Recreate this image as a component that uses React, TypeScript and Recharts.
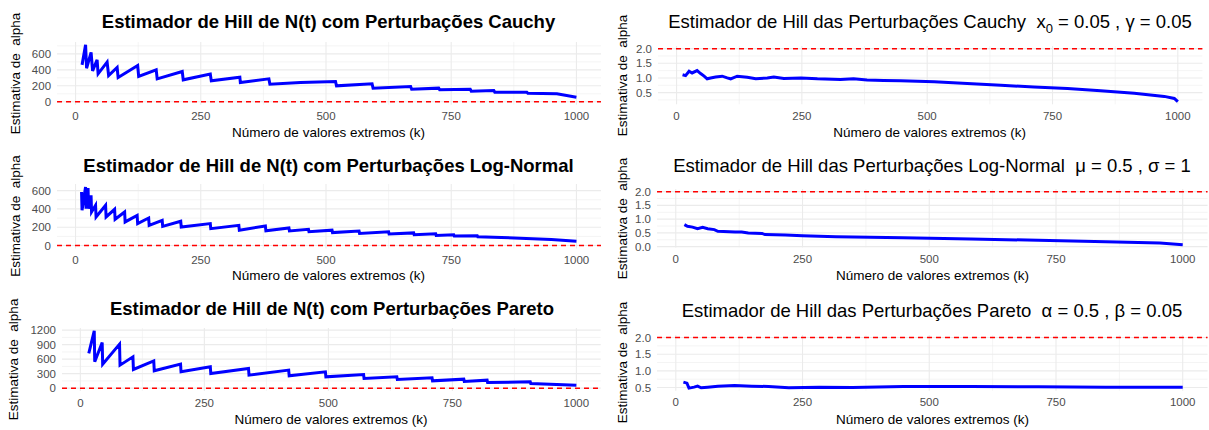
import React from 'react';
import { LineChart, Line, XAxis, YAxis, CartesianGrid, ReferenceLine } from 'recharts';

const FONT = '"Liberation Sans", Arial, Helvetica, sans-serif';

// ---------- data ----------
const kCauchyN = [13, 20, 22, 31, 34, 43, 45, 63, 66, 83, 85, 124, 126, 161, 163, 213, 215, 269, 271, 328, 329, 386, 388, 449, 519, 521, 592, 594, 669, 671, 725, 727, 788, 790, 835, 837, 901, 903, 961, 1000];
const alphaCauchyN = [462, 712, 420, 617, 387, 525, 350, 496, 329, 429, 304, 454, 317, 400, 287, 379, 275, 346, 262, 308, 242, 287, 221, 240, 254, 200, 225, 171, 191, 158, 171, 150, 158, 133, 142, 121, 121, 108, 100, 58];

const kLogNormalN = [12, 13, 20, 21, 25, 26, 31, 32, 40, 41, 60, 61, 78, 79, 98, 99, 123, 124, 146, 147, 173, 174, 210, 211, 269, 270, 326, 327, 379, 380, 426, 427, 465, 466, 512, 513, 566, 567, 625, 626, 675, 676, 719, 720, 755, 756, 802, 803, 850, 900, 950, 1000];
const alphaLogNormalN = [585, 385, 640, 403, 628, 403, 549, 367, 440, 312, 440, 312, 396, 287, 367, 258, 330, 240, 301, 221, 276, 210, 265, 203, 240, 185, 221, 167, 214, 162, 192, 160, 178, 152, 168, 142, 158, 133, 150, 126, 138, 118, 128, 110, 117, 104, 106, 96, 88, 78, 66, 47];

const kParetoN = [17, 28, 29, 44, 45, 79, 80, 106, 107, 148, 149, 202, 203, 262, 263, 339, 340, 420, 421, 494, 495, 571, 572, 638, 639, 709, 710, 773, 774, 820, 821, 907, 908, 1000];
const alphaParetoN = [718, 1186, 545, 946, 497, 911, 476, 648, 387, 565, 359, 497, 338, 441, 304, 407, 269, 373, 255, 338, 234, 283, 200, 234, 180, 214, 151, 186, 139, 166, 118, 130, 97, 62];

const kCauchyP = [12, 18, 25, 31, 41, 48, 55, 61, 68, 78, 91, 101, 108, 121, 141, 158, 181, 194, 214, 248, 281, 327, 353, 380, 413, 447, 514, 580, 647, 713, 780, 846, 913, 973, 993, 1000];
const alphaCauchyP = [1.11, 1.08, 1.23, 1.17, 1.25, 1.15, 1.06, 0.97, 1.0, 1.03, 1.06, 1.0, 0.97, 1.06, 1.02, 0.97, 1.0, 1.03, 0.98, 1.0, 0.97, 0.95, 0.97, 0.93, 0.91, 0.90, 0.87, 0.81, 0.75, 0.69, 0.64, 0.56, 0.48, 0.37, 0.30, 0.19];

const kLogNormalP = [17, 23, 33, 43, 53, 63, 76, 83, 117, 130, 143, 170, 176, 216, 250, 316, 383, 449, 582, 715, 848, 955, 1000];
const alphaLogNormalP = [0.80, 0.74, 0.71, 0.65, 0.70, 0.65, 0.62, 0.56, 0.53, 0.53, 0.50, 0.48, 0.44, 0.42, 0.40, 0.36, 0.34, 0.32, 0.28, 0.23, 0.18, 0.13, 0.07];

const kParetoP = [15, 22, 26, 36, 43, 50, 63, 83, 116, 150, 183, 223, 283, 349, 449, 582, 715, 848, 1000];
const alphaParetoP = [0.66, 0.63, 0.48, 0.51, 0.54, 0.49, 0.51, 0.54, 0.56, 0.54, 0.53, 0.49, 0.51, 0.50, 0.53, 0.53, 0.52, 0.51, 0.51];

const xTicks = [0, 250, 500, 750, 1000];
const xMinor = [125, 375, 625, 875];

const yTicksCauchyN = [0, 200, 400, 600];
const yMinorCauchyN = [100, 300, 500, 700];
const yTicksLogNormalN = [0, 200, 400, 600];
const yMinorLogNormalN = [100, 300, 500];
const yTicksParetoN = [0, 300, 600, 900, 1200];
const yMinorParetoN = [150, 450, 750, 1050];
const yTicksCauchyP = [0.5, 1.0, 1.5, 2.0];
const yMinorCauchyP = [0.25, 0.75, 1.25, 1.75];
const yTicksLogNormalP = [0, 0.5, 1.0, 1.5, 2.0];
const yMinorLogNormalP = [0.25, 0.75, 1.25, 1.75];
const yTicksParetoP = [0.5, 1.0, 1.5, 2.0];
const yMinorParetoP = [0.75, 1.25, 1.75];

const yTitle = 'Estimativa de  alpha';
const xTitle = 'Número de valores extremos (k)';

// ---------- panel ----------
type PanelProps = {
  k: number[];
  v: number[];
  L: number; R: number; T: number; B: number;
  xDomain: [number, number];
  yDomain: [number, number];
  yTicks: number[];
  yMinor: number[];
  refY: number;
  decimals: number;
};

function Panel({ k, v, L, R, T, B, xDomain, yDomain, yTicks, yMinor, refY, decimals }: PanelProps) {
  const YW = 40, XH = 24, M = 4;
  const data = k.map((kk, i) => ({ k: kk, v: v[i] }));
  const width = R - L + YW + 2 * M;
  const height = B - T + XH + 2 * M;
  const tickStyle = { fill: '#4d4d4d', fontSize: 11.5, fontFamily: FONT };
  return (
    <div style={{ position: 'absolute', left: L - YW - M, top: T - M, width, height }}>
      <LineChart width={width} height={height} data={data} margin={{ top: M, right: M, bottom: M, left: M }}>
        <CartesianGrid stroke="#ebebeb" strokeWidth={0.55} horizontalValues={yMinor} verticalValues={xMinor} />
        <CartesianGrid stroke="#ebebeb" strokeWidth={1.1} horizontalValues={yTicks} verticalValues={xTicks} />
        <XAxis type="number" dataKey="k" domain={xDomain} ticks={xTicks} allowDataOverflow axisLine={false}
          tickLine={false} tickSize={0} tickMargin={7.5} height={XH} interval={0} tick={tickStyle} />
        <YAxis type="number" domain={yDomain} ticks={yTicks} allowDataOverflow axisLine={false}
          tickLine={false} tickSize={0} tickMargin={6} width={YW} interval={0} tick={tickStyle}
          tickFormatter={(t: number) => t.toFixed(decimals)} />
        <ReferenceLine y={refY} stroke="#ff0000" strokeWidth={1.5} strokeDasharray="5 4" />
        <Line type="linear" dataKey="v" stroke="#0000ff" strokeWidth={3} dot={false} isAnimationActive={false} />
      </LineChart>
    </div>
  );
}

const boldTitle = { fontFamily: FONT, fontSize: 18.5, fontWeight: 700, fill: '#000' } as const;
const plainTitle = { fontFamily: FONT, fontSize: 18.5, fill: '#000', whiteSpace: 'pre' } as const;
const axisTitle = { fontFamily: FONT, fontSize: 13.5, fill: '#000', whiteSpace: 'pre' } as const;

function YTitle({ x, y }: { x: number; y: number }) {
  return (
    <text x={x} y={y} textAnchor="middle" transform={`rotate(-90 ${x} ${y})`} style={axisTitle}>{yTitle}</text>
  );
}
function XTitle({ x, y }: { x: number; y: number }) {
  return <text x={x} y={y} textAnchor="middle" style={axisTitle}>{xTitle}</text>;
}

export default function App() {
  return (
    <div style={{ position: 'absolute', left: 0, top: 0, width: 1209, height: 430, background: '#fff', overflow: 'hidden' }}>
      <Panel k={kCauchyN} v={alphaCauchyN} L={56.5} R={600.5} T={42.2} B={104.9} xDomain={[-37, 1049]} yDomain={[-36, 748]}
        yTicks={yTicksCauchyN} yMinor={yMinorCauchyN} refY={0} decimals={0} />
      <Panel k={kCauchyP} v={alphaCauchyP} L={657.5} R={1201.9} T={46.4} B={104.7} xDomain={[-37, 1049]} yDomain={[0.10, 2.09]}
        yTicks={yTicksCauchyP} yMinor={yMinorCauchyP} refY={2} decimals={1} />
      <Panel k={kLogNormalN} v={alphaLogNormalN} L={56.5} R={600.5} T={183.7} B={248.2} xDomain={[-37, 1049]} yDomain={[-32, 672]}
        yTicks={yTicksLogNormalN} yMinor={yMinorLogNormalN} refY={0} decimals={0} />
      <Panel k={kLogNormalP} v={alphaLogNormalP} L={657.2} R={1207.8} T={189.3} B={247.7} xDomain={[-37, 1049]} yDomain={[-0.027, 2.097]}
        yTicks={yTicksLogNormalP} yMinor={yMinorLogNormalP} refY={2} decimals={1} />
      <Panel k={kParetoN} v={alphaParetoN} L={61.6} R={600.3} T={327.9} B={390.9} xDomain={[-37, 1049]} yDomain={[-59, 1245]}
        yTicks={yTicksParetoN} yMinor={yMinorParetoN} refY={0} decimals={0} />
      <Panel k={kParetoP} v={alphaParetoP} L={657.2} R={1207.8} T={334.5} B={390.2} xDomain={[-37, 1049]} yDomain={[0.404, 2.076]}
        yTicks={yTicksParetoP} yMinor={yMinorParetoP} refY={2} decimals={1} />

      <svg width={1209} height={430} style={{ position: 'absolute', left: 0, top: 0, pointerEvents: 'none' }}>
        <text x={328.5} y={28.3} textAnchor="middle" style={boldTitle}>Estimador de Hill de N(t) com Perturbações Cauchy</text>
        <text x={328.5} y={171.7} textAnchor="middle" style={boldTitle}>Estimador de Hill de N(t) com Perturbações Log-Normal</text>
        <text x={332} y={315} textAnchor="middle" style={boldTitle}>Estimador de Hill de N(t) com Perturbações Pareto</text>

        <text x={930} y={28.3} textAnchor="middle" style={plainTitle}>
          {'Estimador de Hill das Perturbações Cauchy  x'}
          <tspan dy={5} fontSize={13}>0</tspan>
          <tspan dy={-5}>{' = 0.05 , γ = 0.05'}</tspan>
        </text>
        <text x={932} y={171.7} textAnchor="middle" style={plainTitle}>{'Estimador de Hill das Perturbações Log-Normal  μ = 0.5 , σ = 1'}</text>
        <text x={932} y={316.5} textAnchor="middle" style={plainTitle}>{'Estimador de Hill das Perturbações Pareto  α = 0.5 , β = 0.05'}</text>

        <YTitle x={19.7} y={73.5} />
        <YTitle x={19.7} y={216} />
        <YTitle x={17.7} y={359.4} />
        <YTitle x={626.5} y={75.5} />
        <YTitle x={626.5} y={218.5} />
        <YTitle x={627.5} y={362.4} />

        <XTitle x={328.5} y={137} />
        <XTitle x={328.5} y={280} />
        <XTitle x={331} y={423.5} />
        <XTitle x={929.7} y={137} />
        <XTitle x={932.5} y={280} />
        <XTitle x={932.5} y={423.5} />
      </svg>
    </div>
  );
}
